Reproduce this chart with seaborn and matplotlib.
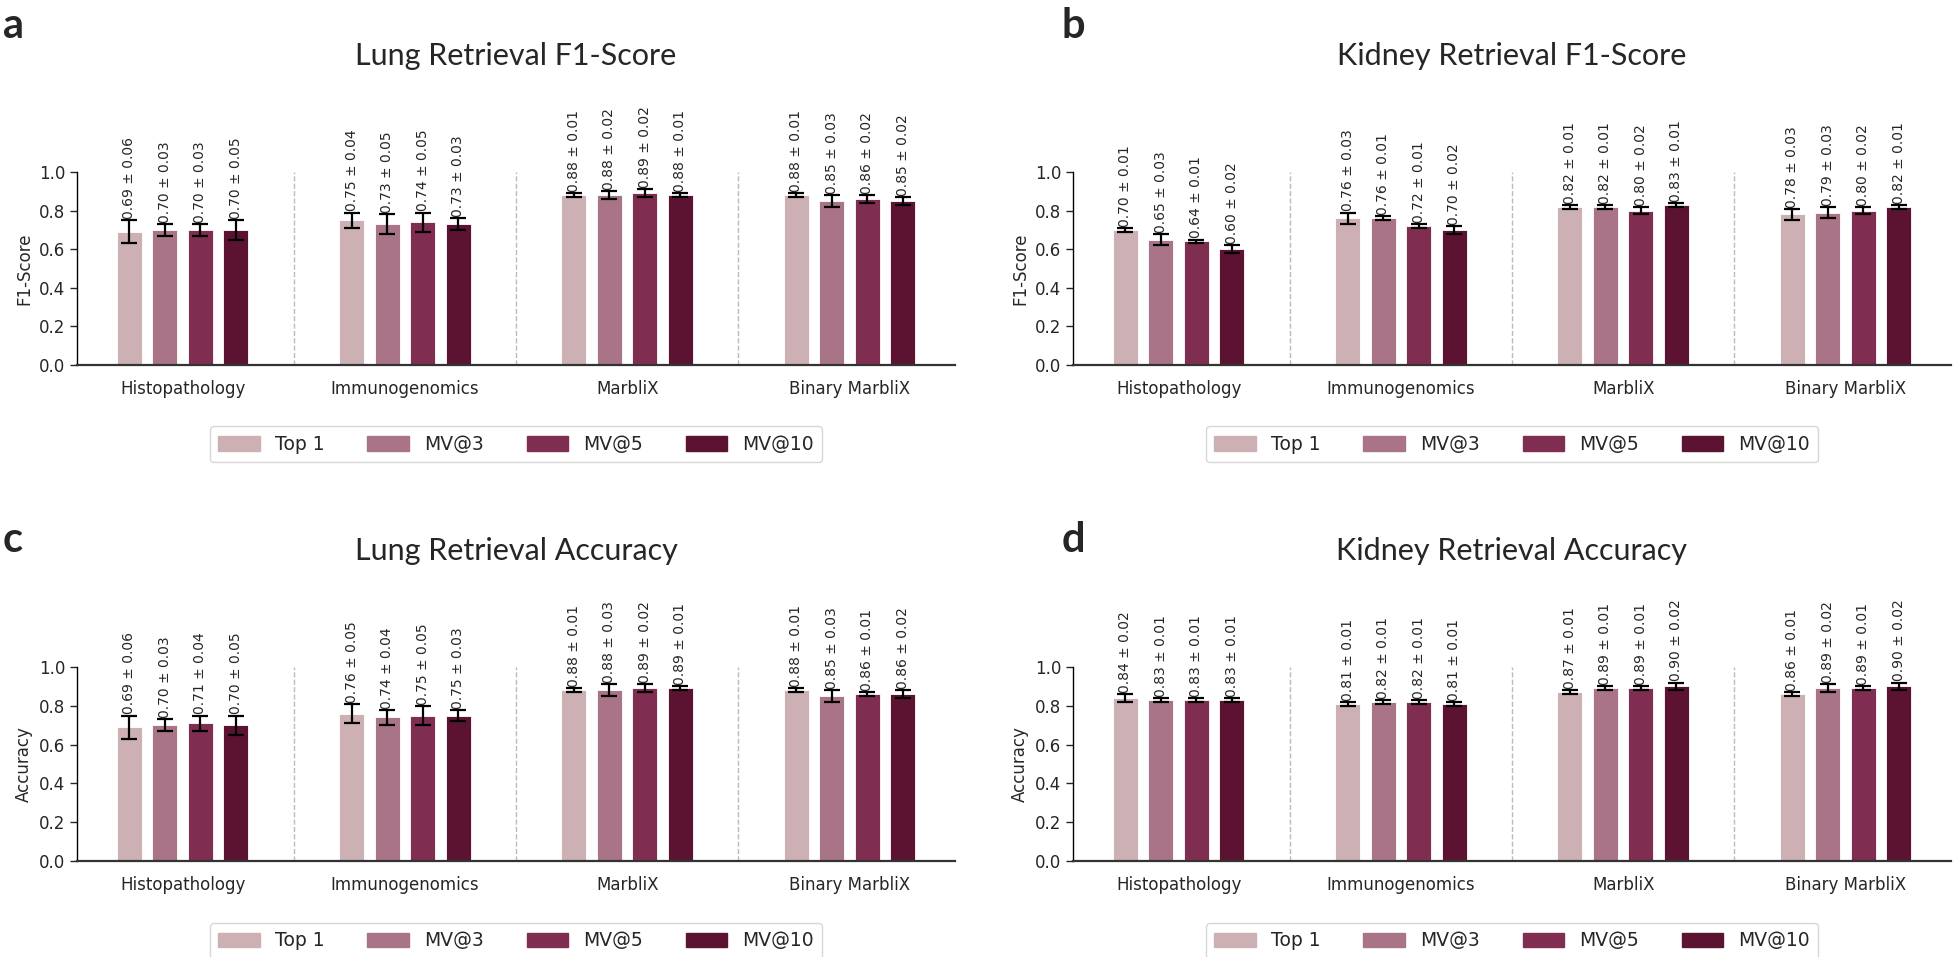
import matplotlib
matplotlib.use("Agg")
import matplotlib.pyplot as plt
import seaborn as sns
import numpy as np
import pandas as pd

# categories / series
methods = ["Histopathology", "Immunogenomics", "MarbliX", "Binary MarbliX"]
strategies = ["Top 1", "MV@3", "MV@5", "MV@10"]
colors = ["#cdb0b3", "#a97388", "#802d52", "#5c1331"]

# values per method, one row per method: Top 1, MV@3, MV@5, MV@10
lung_f1 = [[0.69, 0.70, 0.70, 0.70],
           [0.75, 0.73, 0.74, 0.73],
           [0.88, 0.88, 0.89, 0.88],
           [0.88, 0.85, 0.86, 0.85]]
lung_f1_sd = [[0.06, 0.03, 0.03, 0.05],
              [0.04, 0.05, 0.05, 0.03],
              [0.01, 0.02, 0.02, 0.01],
              [0.01, 0.03, 0.02, 0.02]]

kidney_f1 = [[0.70, 0.65, 0.64, 0.60],
             [0.76, 0.76, 0.72, 0.70],
             [0.82, 0.82, 0.80, 0.83],
             [0.78, 0.79, 0.80, 0.82]]
kidney_f1_sd = [[0.01, 0.03, 0.01, 0.02],
                [0.03, 0.01, 0.01, 0.02],
                [0.01, 0.01, 0.02, 0.01],
                [0.03, 0.03, 0.02, 0.01]]

lung_acc = [[0.69, 0.70, 0.71, 0.70],
            [0.76, 0.74, 0.75, 0.75],
            [0.88, 0.88, 0.89, 0.89],
            [0.88, 0.85, 0.86, 0.86]]
lung_acc_sd = [[0.06, 0.03, 0.04, 0.05],
               [0.05, 0.04, 0.05, 0.03],
               [0.01, 0.03, 0.02, 0.01],
               [0.01, 0.03, 0.01, 0.02]]

kidney_acc = [[0.84, 0.83, 0.83, 0.83],
              [0.81, 0.82, 0.82, 0.81],
              [0.87, 0.89, 0.89, 0.90],
              [0.86, 0.89, 0.89, 0.90]]
kidney_acc_sd = [[0.02, 0.01, 0.01, 0.01],
                 [0.01, 0.01, 0.01, 0.01],
                 [0.01, 0.01, 0.01, 0.02],
                 [0.01, 0.02, 0.01, 0.02]]

panels = [
    ("a", "Lung Retrieval F1-Score", "F1-Score", lung_f1, lung_f1_sd),
    ("b", "Kidney Retrieval F1-Score", "F1-Score", kidney_f1, kidney_f1_sd),
    ("c", "Lung Retrieval Accuracy", "Accuracy", lung_acc, lung_acc_sd),
    ("d", "Kidney Retrieval Accuracy", "Accuracy", kidney_acc, kidney_acc_sd),
]

sns.set_style("white")
plt.rcParams["font.family"] = ["DejaVu Sans"]

W, H = 1955, 957
fig = plt.figure(figsize=(W / 100, H / 100), dpi=100)

# axes boxes in pixels: left, top(1.0), right, bottom(0.0)
boxes = {
    "a": (77, 172, 955, 365),
    "b": (1073, 172, 1951, 365),
    "c": (77, 667, 955, 861),
    "d": (1073, 667, 1951, 861),
}
letter_pos = {"a": (3, 38), "b": (1062, 38), "c": (3, 552), "d": (1062, 552)}

for letter, title, ylab, vals, sds in panels:
    l, t, r, b = boxes[letter]
    ax = fig.add_axes([l / W, 1 - b / H, (r - l) / W, (b - t) / H])

    df = pd.DataFrame({
        "method": np.repeat(methods, len(strategies)),
        "strategy": strategies * len(methods),
        "value": np.array(vals).ravel(),
        "sd": np.array(sds).ravel(),
    })

    sns.barplot(data=df, x="method", y="value", hue="strategy",
                hue_order=strategies, order=methods, palette=colors,
                saturation=1, width=0.64, gap=0.3, errorbar=None, ax=ax,
                edgecolor="white", linewidth=0.6, legend=False)

    for cont, strat in zip(ax.containers, strategies):
        sub = df[df["strategy"] == strat].set_index("method").loc[methods]
        xs = [p.get_x() + p.get_width() / 2 for p in cont]
        hs = [p.get_height() for p in cont]
        ax.errorbar(xs, hs, yerr=sub["sd"].values, fmt="none",
                    ecolor="black", elinewidth=1.6, capsize=6, capthick=1.6)
        for x, h, v, s in zip(xs, hs, sub["value"].values, sub["sd"].values):
            ax.text(x, h + s + 0.006, f"{v:.2f} \u00b1 {s:.2f}",
                    rotation=90, ha="center", va="bottom", fontsize=10,
                    clip_on=False)

    for sep in [0.5, 1.5, 2.5]:
        ax.axvline(sep, color="#bbbbbb", linestyle="--", linewidth=1)

    ax.set_xlim(-0.475, 3.475)
    ax.set_ylim(0, 1.0)
    ax.set_yticks([0, 0.2, 0.4, 0.6, 0.8, 1.0])
    ax.set_yticklabels(["0.0", "0.2", "0.4", "0.6", "0.8", "1.0"])
    ax.tick_params(axis="y", labelsize=12, length=5, width=1, left=True)
    ax.tick_params(axis="x", labelsize=12, length=0, pad=11)
    ax.set_xlabel("")
    ax.set_ylabel(ylab, fontsize=12)
    for side in ["top", "right"]:
        ax.spines[side].set_visible(False)
    ax.spines["left"].set_color("black")
    ax.spines["left"].set_linewidth(1)
    ax.spines["bottom"].set_color("#333333")
    ax.spines["bottom"].set_linewidth(1.6)

    handles = [plt.Rectangle((0, 0), 1, 1, color=c) for c in colors]
    ax.legend(handles, strategies, loc="upper center",
              bbox_to_anchor=(0.5, -0.27), ncol=4, fontsize=13.5,
              handlelength=2.2, handleheight=0.8, handletextpad=0.8,
              columnspacing=2.3, frameon=True, borderpad=0.45)

    cx = (l + r) / 2 / W
    fig.text(cx, 1 - (t - 107) / H, title, ha="center", va="baseline",
             fontsize=22, family=["Lato", "DejaVu Sans"])
    lx, ly = letter_pos[letter]
    fig.text(lx / W, 1 - ly / H, letter, ha="left", va="baseline",
             fontsize=30, fontweight="bold", family=["Lato", "DejaVu Sans"])

fig.savefig("out.png", dpi=100)
